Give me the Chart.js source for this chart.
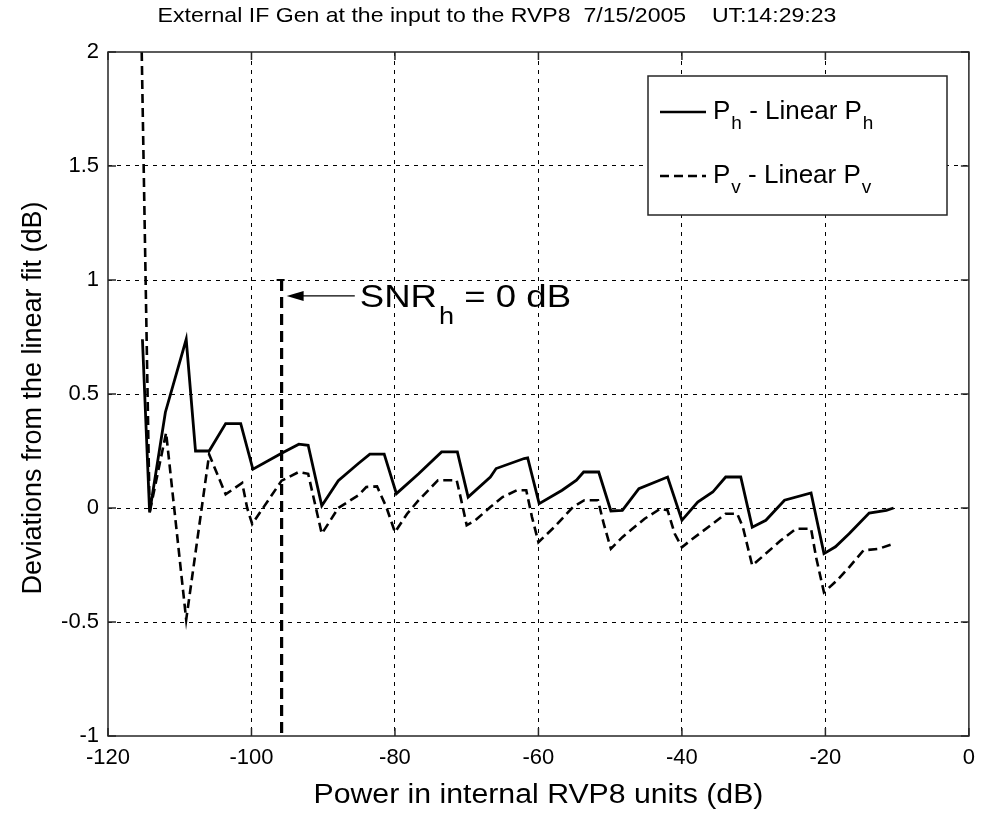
<!DOCTYPE html>
<html>
<head>
    <title>External IF Gen - RVP8</title>
    <script src="https://cdn.jsdelivr.net/npm/chart.js@4.4.0/dist/chart.umd.min.js"></script>
    <style>
        body { margin: 0; background-color: #ffffff; }
        #wrap { width: 984px; height: 815px; }
    </style>
</head>
<body>
    <div id="wrap"><canvas id="devChart" width="984" height="815"></canvas></div>
    <script>
        // P_h - Linear P_h (solid)
        const phX = [-115.2, -114.2, -112, -109.1, -107.8, -105.9, -103.6, -101.5, -99.8, -95.8, -93.4, -92.1, -90.2,
            -87.9, -85.1, -83.5, -81.5, -79.8, -76.7, -73.5, -71.3, -69.8, -66.7, -65.9, -62, -61.5, -59.9,
            -56.7, -54.7, -53.7, -51.6, -49.9, -48.3, -46, -42, -40, -37.8, -35.7, -33.9, -31.8, -30.2,
            -28.3, -25.7, -22, -20.2, -18.6, -16.7, -13.9, -11.5, -10.5];
        const phY = [0.74, -0.02, 0.42, 0.74, 0.25, 0.25, 0.37, 0.37, 0.17, 0.24, 0.28, 0.275, 0.01,
            0.12, 0.195, 0.236, 0.236, 0.063, 0.15, 0.246, 0.246, 0.048, 0.136, 0.173, 0.217, 0.22, 0.019,
            0.078, 0.122, 0.158, 0.158, -0.013, -0.01, 0.085, 0.136, -0.054, 0.026, 0.07, 0.136, 0.136, -0.084,
            -0.054, 0.034, 0.066, -0.2, -0.17, -0.113, -0.022, -0.01, 0];

        // P_v - Linear P_v (dashed)
        const pvX = [-115.3, -114.2, -111.9, -109.1, -105.9, -103.6, -101.3, -100.6, -99.9, -95.8, -93.4, -92.1, -90.2,
            -87.9, -85.1, -84, -82.5, -81.2, -80, -78.3, -76.7, -74, -71.4, -70.8, -70, -68.8, -66.7, -65,
            -63, -61.7, -60.9, -60, -57.8, -55.2, -53.6, -51.7, -50.9, -49.9, -48.3, -45.2, -43, -42, -41,
            -40, -38.8, -35.7, -33.9, -32.3, -31.5, -30.2, -28.3, -26.2, -24.1, -22, -21.3, -20.2, -18.4,
            -16.7, -14.7, -12.6, -10.5];
        const pvY = [2.0, -0.02, 0.33, -0.49, 0.235, 0.06, 0.11, 0.0, -0.07, 0.12, 0.158, 0.15, -0.113,
            0.0, 0.056, 0.092, 0.095, 0.004, -0.106, -0.025, 0.034, 0.122, 0.122, 0.04, -0.076, -0.054, 0.004, 0.048,
            0.078, 0.078, -0.04, -0.15, -0.084, 0.004, 0.034, 0.034, -0.069, -0.179, -0.128, -0.047, -0.003, -0.01, -0.113,
            -0.172, -0.142, -0.069, -0.025, -0.025, -0.084, -0.252, -0.2, -0.142, -0.091, -0.091, -0.216, -0.37, -0.318,
            -0.26, -0.186, -0.179, -0.157];

        // SNR_h = 0 dB marker
        const snrX = [-95.8, -95.8];
        const snrY = [1.0, -1.0];
        const arrowFromX = -85.6;
        const arrowToX = -95.1;
        const arrowY = 0.93;

        const xTicks = [-120, -100, -80, -60, -40, -20, 0];
        const yTicks = [-1, -0.5, 0, 0.5, 1, 1.5, 2];

        const toPoints = (xs, ys) => xs.map((x, i) => ({ x: x, y: ys[i] }));
        const FONT = '"Liberation Sans", Arial, sans-serif';

        // text with horizontal stretch (the reference is a little wider than tall)
        function wideText(ctx, str, x, y, sx) {
            ctx.save();
            ctx.translate(x, y);
            ctx.scale(sx, 1);
            ctx.fillText(str, 0, 0);
            ctx.restore();
            return ctx.measureText(str).width * sx;
        }

        const decorPlugin = {
            id: 'decor',
            afterDraw(chart) {
                const ctx = chart.ctx;
                const area = chart.chartArea;
                const xs = chart.scales.x;
                const ys = chart.scales.y;
                ctx.save();

                // axes box
                ctx.strokeStyle = '#262626';
                ctx.lineWidth = 1.5;
                ctx.strokeRect(area.left, area.top, area.right - area.left, area.bottom - area.top);

                // inward ticks on all sides
                ctx.beginPath();
                xTicks.forEach(v => {
                    const px = xs.getPixelForValue(v);
                    ctx.moveTo(px, area.bottom); ctx.lineTo(px, area.bottom - 8);
                    ctx.moveTo(px, area.top); ctx.lineTo(px, area.top + 8);
                });
                yTicks.forEach(v => {
                    const py = ys.getPixelForValue(v);
                    ctx.moveTo(area.left, py); ctx.lineTo(area.left + 8, py);
                    ctx.moveTo(area.right, py); ctx.lineTo(area.right - 8, py);
                });
                ctx.stroke();

                // arrow to SNR line
                const ay = ys.getPixelForValue(arrowY);
                const ax0 = xs.getPixelForValue(arrowFromX);
                const ax1 = xs.getPixelForValue(arrowToX);
                ctx.strokeStyle = '#000';
                ctx.fillStyle = '#000';
                ctx.lineWidth = 1.2;
                ctx.beginPath();
                ctx.moveTo(ax0, ay); ctx.lineTo(ax1 + 14, ay);
                ctx.stroke();
                ctx.beginPath();
                ctx.moveTo(ax1, ay); ctx.lineTo(ax1 + 17, ay - 5); ctx.lineTo(ax1 + 17, ay + 5);
                ctx.closePath();
                ctx.fill();
                // small serif at top of SNR line
                const sx = xs.getPixelForValue(snrX[0]);
                const sy = ys.getPixelForValue(snrY[0]);
                ctx.lineWidth = 2;
                ctx.beginPath();
                ctx.moveTo(sx - 5, sy); ctx.lineTo(sx + 3, sy);
                ctx.stroke();

                // SNR text
                ctx.textBaseline = 'alphabetic';
                ctx.textAlign = 'left';
                let tx = ax0 + 5;
                const tb = ay + 11;
                ctx.font = '31px ' + FONT;
                tx += wideText(ctx, 'SNR', tx, tb, 1.18);
                ctx.font = '23px ' + FONT;
                tx += wideText(ctx, 'h', tx + 2, tb + 17, 1.18) + 2;
                ctx.font = '31px ' + FONT;
                wideText(ctx, ' = 0 dB', tx, tb, 1.18);

                // legend
                const lg = { left: 648, top: 76, right: 947, bottom: 215 };
                ctx.fillStyle = '#fff';
                ctx.fillRect(lg.left, lg.top, lg.right - lg.left, lg.bottom - lg.top);
                ctx.strokeStyle = '#262626';
                ctx.lineWidth = 1.5;
                ctx.strokeRect(lg.left, lg.top, lg.right - lg.left, lg.bottom - lg.top);
                const entries = [
                    { sym: 'P', sub: 'h', y: 112, dash: [] },
                    { sym: 'P', sub: 'v', y: 176, dash: [9, 5] }
                ];
                entries.forEach(e => {
                    ctx.strokeStyle = '#000';
                    ctx.lineWidth = 2.5;
                    ctx.setLineDash(e.dash);
                    ctx.beginPath();
                    ctx.moveTo(lg.left + 12, e.y); ctx.lineTo(lg.left + 58, e.y);
                    ctx.stroke();
                    ctx.setLineDash([]);
                    ctx.fillStyle = '#000';
                    let lx = lg.left + 65;
                    const base = e.y + 7;
                    ctx.font = '26px ' + FONT;
                    ctx.fillText(e.sym, lx, base);
                    lx += ctx.measureText(e.sym).width;
                    ctx.font = '19px ' + FONT;
                    ctx.fillText(e.sub, lx + 1, base + 10);
                    lx += ctx.measureText(e.sub).width + 1;
                    ctx.font = '26px ' + FONT;
                    ctx.fillText(' - Linear ' + e.sym, lx, base);
                    lx += ctx.measureText(' - Linear ' + e.sym).width;
                    ctx.font = '19px ' + FONT;
                    ctx.fillText(e.sub, lx + 1, base + 10);
                });

                // title and axis titles
                ctx.fillStyle = '#000';
                ctx.textAlign = 'center';
                ctx.textBaseline = 'middle';
                ctx.font = '21px ' + FONT;
                wideText(ctx, 'External IF Gen at the input to the RVP8  7/15/2005    UT:14:29:23', 497, 16, 1.1);
                ctx.font = '27px ' + FONT;
                wideText(ctx, 'Power in internal RVP8 units (dB)', (area.left + area.right) / 2, 796, 1.12);
                ctx.save();
                ctx.translate(34, (area.top + area.bottom) / 2 + 4);
                ctx.rotate(-Math.PI / 2);
                ctx.fillText('Deviations from the linear fit (dB)', 0, 0);
                ctx.restore();

                ctx.restore();
            }
        };

        const gridColor = c => (c.tick && (c.tick.value === c.scale.min || c.tick.value === c.scale.max)) ? 'rgba(0,0,0,0)' : '#000';

        new Chart(document.getElementById('devChart').getContext('2d'), {
            type: 'scatter',
            data: {
                datasets: [
                    {
                        label: 'Ph - Linear Ph',
                        data: toPoints(phX, phY),
                        showLine: true,
                        borderColor: '#000',
                        borderWidth: 2.8,
                        pointRadius: 0,
                        tension: 0
                    },
                    {
                        label: 'Pv - Linear Pv',
                        data: toPoints(pvX, pvY),
                        showLine: true,
                        borderColor: '#000',
                        borderWidth: 2.6,
                        borderDash: [9, 5],
                        pointRadius: 0,
                        tension: 0
                    },
                    {
                        label: 'SNR',
                        data: toPoints(snrX, snrY),
                        showLine: true,
                        borderColor: '#000',
                        borderWidth: 3.2,
                        borderDash: [11, 6],
                        pointRadius: 0
                    }
                ]
            },
            options: {
                responsive: false,
                devicePixelRatio: 1,
                animation: false,
                layout: { padding: { left: 0, top: 52, right: 7, bottom: 0 } },
                plugins: {
                    legend: { display: false },
                    tooltip: { enabled: false },
                    title: { display: false }
                },
                scales: {
                    x: {
                        type: 'linear',
                        min: -120,
                        max: 0,
                        afterBuildTicks: s => { s.ticks = xTicks.map(v => ({ value: v })); },
                        afterFit: s => { s.height = 79; },
                        grid: { color: gridColor, lineWidth: 1, drawTicks: false },
                        border: { display: false, dash: [4, 5] },
                        ticks: { color: '#000', font: { size: 22, family: FONT }, padding: 9, maxRotation: 0,
                            callback: v => String(v) }
                    },
                    y: {
                        min: -1,
                        max: 2,
                        afterBuildTicks: s => { s.ticks = yTicks.map(v => ({ value: v })); },
                        afterFit: s => { s.width = 108; },
                        grid: { color: gridColor, lineWidth: 1, drawTicks: false },
                        border: { display: false, dash: [4, 5] },
                        ticks: { color: '#000', font: { size: 22, family: FONT }, padding: 9,
                            callback: v => String(v) }
                    }
                }
            },
            plugins: [decorPlugin]
        });
    </script>
</body>
</html>
